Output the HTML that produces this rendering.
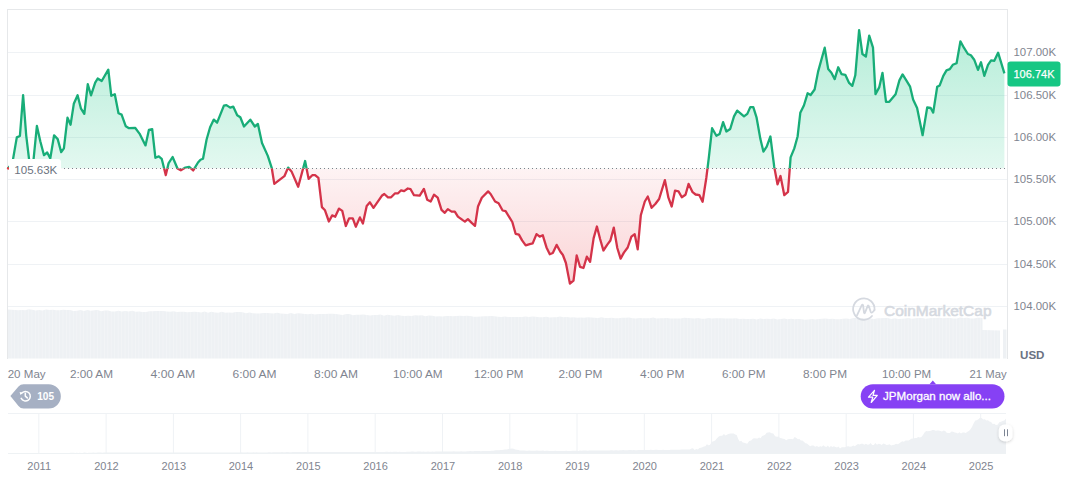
<!DOCTYPE html>
<html><head><meta charset="utf-8"><style>
html,body{margin:0;padding:0;background:#fff;width:1072px;height:477px;overflow:hidden;}
svg{display:block;font-family:"Liberation Sans",sans-serif;}
</style></head><body>
<svg width="1072" height="477" viewBox="0 0 1072 477"><defs><linearGradient id="gg" x1="0" y1="28" x2="0" y2="168.5" gradientUnits="userSpaceOnUse"><stop offset="0" stop-color="#16c784" stop-opacity="0.32"/><stop offset="1" stop-color="#16c784" stop-opacity="0.12"/></linearGradient><linearGradient id="rg" x1="0" y1="168.5" x2="0" y2="285" gradientUnits="userSpaceOnUse"><stop offset="0" stop-color="#ea3943" stop-opacity="0.06"/><stop offset="1" stop-color="#ea3943" stop-opacity="0.22"/></linearGradient><clipPath id="above"><rect x="0" y="0" width="1072" height="168.5"/></clipPath><clipPath id="below"><rect x="0" y="168.5" width="1072" height="308.5"/></clipPath><filter id="sh" x="-50%" y="-50%" width="200%" height="200%"><feDropShadow dx="0" dy="1" stdDeviation="1.5" flood-color="#000" flood-opacity="0.18"/></filter></defs><rect width="1072" height="477" fill="#fff"/><path d="M8.0,309.6 L11.4,309.8 L14.9,309.9 L18.3,310.2 L21.8,310.0 L25.2,310.2 L28.7,309.2 L32.1,309.8 L35.6,310.4 L39.1,310.1 L42.5,310.5 L46.0,309.6 L49.4,310.0 L52.9,309.8 L56.3,310.2 L59.8,310.3 L63.2,309.7 L66.7,310.0 L70.1,310.1 L73.6,310.9 L77.0,310.8 L80.5,310.1 L83.9,310.9 L87.4,310.1 L90.8,310.8 L94.3,310.2 L97.7,310.1 L101.2,311.2 L104.6,310.5 L108.1,310.5 L111.5,311.5 L115.0,311.4 L118.4,310.8 L121.9,311.6 L125.3,311.1 L128.8,311.4 L132.2,310.8 L135.7,311.8 L139.1,311.5 L142.6,311.9 L146.0,311.9 L149.4,311.2 L152.9,311.3 L156.3,311.1 L159.8,311.1 L163.2,311.1 L166.7,311.4 L170.1,311.8 L173.6,311.2 L177.0,312.0 L180.5,311.7 L183.9,311.7 L187.4,312.3 L190.8,312.0 L194.3,311.8 L197.7,312.1 L201.2,312.4 L204.6,311.6 L208.1,312.8 L211.5,311.7 L215.0,312.6 L218.4,312.8 L221.9,311.8 L225.3,312.8 L228.8,312.4 L232.2,312.7 L235.7,312.0 L239.1,312.1 L242.6,312.3 L246.0,313.3 L249.5,312.4 L252.9,313.2 L256.4,313.4 L259.8,313.5 L263.3,312.9 L266.7,312.9 L270.2,313.2 L273.6,313.6 L277.1,312.8 L280.5,313.6 L284.0,313.8 L287.4,313.9 L290.9,313.0 L294.3,314.1 L297.8,313.2 L301.2,313.5 L304.7,313.9 L308.1,314.3 L311.6,313.7 L315.0,314.5 L318.5,314.1 L321.9,313.9 L325.4,313.9 L328.8,313.8 L332.3,313.8 L335.7,313.9 L339.2,314.6 L342.6,315.1 L346.1,314.1 L349.5,314.1 L353.0,315.2 L356.4,314.8 L359.9,314.7 L363.3,314.5 L366.8,315.0 L370.2,315.4 L373.7,315.0 L377.1,315.0 L380.6,314.6 L384.0,315.7 L387.5,314.7 L390.9,315.3 L394.4,315.8 L397.8,315.0 L401.3,315.8 L404.7,316.1 L408.2,315.7 L411.6,316.0 L415.1,315.2 L418.5,315.6 L422.0,315.3 L425.4,316.2 L428.9,315.5 L432.3,315.8 L435.8,316.5 L439.2,316.3 L442.7,316.5 L446.1,315.9 L449.6,316.0 L453.0,316.3 L456.5,316.0 L459.9,315.8 L463.4,316.0 L466.8,315.7 L470.3,316.1 L473.7,316.8 L477.2,316.8 L480.6,316.5 L484.1,316.3 L487.5,316.2 L491.0,315.9 L494.4,316.2 L497.9,316.8 L501.3,317.0 L504.8,316.4 L508.2,316.9 L511.7,316.9 L515.1,316.9 L518.6,316.9 L522.0,317.0 L525.5,316.6 L528.9,317.0 L532.4,316.6 L535.8,316.8 L539.3,317.2 L542.7,317.2 L546.2,316.7 L549.6,317.5 L553.1,317.2 L556.5,317.2 L560.0,316.5 L563.4,317.2 L566.9,316.9 L570.3,317.4 L573.8,317.2 L577.2,317.7 L580.7,317.5 L584.1,317.7 L587.6,317.2 L591.0,317.6 L594.5,317.7 L597.9,317.9 L601.4,317.3 L604.9,318.0 L608.3,318.0 L611.8,317.8 L615.2,318.2 L618.7,318.2 L622.1,317.7 L625.6,317.8 L629.0,317.4 L632.5,318.2 L635.9,318.4 L639.4,317.9 L642.8,318.2 L646.3,318.2 L649.7,318.3 L653.2,317.6 L656.6,318.4 L660.1,318.2 L663.5,318.3 L667.0,318.1 L670.4,318.4 L673.9,318.6 L677.3,318.4 L680.8,318.6 L684.2,317.8 L687.7,318.0 L691.1,318.3 L694.6,318.6 L698.0,318.1 L701.5,318.7 L704.9,318.7 L708.4,318.0 L711.8,318.6 L715.3,318.3 L718.7,318.2 L722.2,318.3 L725.6,318.5 L729.1,318.4 L732.5,318.5 L736.0,318.3 L739.4,318.9 L742.9,318.8 L746.3,319.1 L749.8,319.1 L753.2,318.7 L756.7,319.5 L760.1,318.4 L763.6,318.9 L767.0,318.8 L770.5,319.0 L773.9,318.6 L777.4,319.5 L780.8,319.0 L784.3,318.6 L787.7,319.3 L791.2,318.7 L794.6,319.2 L798.1,319.0 L801.5,319.3 L805.0,319.7 L808.4,319.5 L811.9,318.9 L815.3,319.4 L818.8,319.1 L822.2,318.7 L825.7,318.4 L829.1,318.9 L832.6,318.8 L836.0,319.2 L839.5,319.2 L842.9,318.7 L846.4,318.4 L849.8,319.0 L853.3,317.9 L856.7,318.0 L860.2,318.5 L863.6,318.6 L867.1,318.0 L870.5,318.6 L874.0,318.9 L877.4,318.2 L880.9,318.3 L884.3,318.0 L887.8,318.1 L891.2,318.9 L894.7,318.2 L898.1,318.9 L901.6,318.8 L905.0,318.4 L908.5,318.0 L911.9,318.8 L915.4,318.2 L918.8,318.1 L922.3,318.0 L925.7,318.8 L929.2,318.2 L932.6,317.9 L936.1,318.1 L939.5,317.7 L943.0,318.3 L946.4,318.1 L949.9,317.9 L953.3,318.4 L956.8,318.5 L960.2,317.5 L963.7,318.1 L967.1,317.8 L970.6,318.6 L974.0,318.4 L977.5,317.7 L980.9,317.7 L982.5,318.0 L982.5,330.0 L1000.0,330.5 L1000.0,358.5 L8.0,358.5 Z" fill="#eef1f4"/><rect x="1003" y="329.5" width="3.5" height="29" fill="#eef1f4"/><path d="M11.20,305 V359 M14.65,305 V359 M18.10,305 V359 M21.55,305 V359 M25.00,305 V359 M28.45,305 V359 M31.90,305 V359 M35.35,305 V359 M38.80,305 V359 M42.25,305 V359 M45.70,305 V359 M49.15,305 V359 M52.60,305 V359 M56.05,305 V359 M59.50,305 V359 M62.95,305 V359 M66.40,305 V359 M69.85,305 V359 M73.30,305 V359 M76.75,305 V359 M80.20,305 V359 M83.65,305 V359 M87.10,305 V359 M90.55,305 V359 M94.00,305 V359 M97.45,305 V359 M100.90,305 V359 M104.35,305 V359 M107.80,305 V359 M111.25,305 V359 M114.70,305 V359 M118.15,305 V359 M121.60,305 V359 M125.05,305 V359 M128.50,305 V359 M131.95,305 V359 M135.40,305 V359 M138.85,305 V359 M142.30,305 V359 M145.75,305 V359 M149.20,305 V359 M152.65,305 V359 M156.10,305 V359 M159.55,305 V359 M163.00,305 V359 M166.45,305 V359 M169.90,305 V359 M173.35,305 V359 M176.80,305 V359 M180.25,305 V359 M183.70,305 V359 M187.15,305 V359 M190.60,305 V359 M194.05,305 V359 M197.50,305 V359 M200.95,305 V359 M204.40,305 V359 M207.85,305 V359 M211.30,305 V359 M214.75,305 V359 M218.20,305 V359 M221.65,305 V359 M225.10,305 V359 M228.55,305 V359 M232.00,305 V359 M235.45,305 V359 M238.90,305 V359 M242.35,305 V359 M245.80,305 V359 M249.25,305 V359 M252.70,305 V359 M256.15,305 V359 M259.60,305 V359 M263.05,305 V359 M266.50,305 V359 M269.95,305 V359 M273.40,305 V359 M276.85,305 V359 M280.30,305 V359 M283.75,305 V359 M287.20,305 V359 M290.65,305 V359 M294.10,305 V359 M297.55,305 V359 M301.00,305 V359 M304.45,305 V359 M307.90,305 V359 M311.35,305 V359 M314.80,305 V359 M318.25,305 V359 M321.70,305 V359 M325.15,305 V359 M328.60,305 V359 M332.05,305 V359 M335.50,305 V359 M338.95,305 V359 M342.40,305 V359 M345.85,305 V359 M349.30,305 V359 M352.75,305 V359 M356.20,305 V359 M359.65,305 V359 M363.10,305 V359 M366.55,305 V359 M370.00,305 V359 M373.45,305 V359 M376.90,305 V359 M380.35,305 V359 M383.80,305 V359 M387.25,305 V359 M390.70,305 V359 M394.15,305 V359 M397.60,305 V359 M401.05,305 V359 M404.50,305 V359 M407.95,305 V359 M411.40,305 V359 M414.85,305 V359 M418.30,305 V359 M421.75,305 V359 M425.20,305 V359 M428.65,305 V359 M432.10,305 V359 M435.55,305 V359 M439.00,305 V359 M442.45,305 V359 M445.90,305 V359 M449.35,305 V359 M452.80,305 V359 M456.25,305 V359 M459.70,305 V359 M463.15,305 V359 M466.60,305 V359 M470.05,305 V359 M473.50,305 V359 M476.95,305 V359 M480.40,305 V359 M483.85,305 V359 M487.30,305 V359 M490.75,305 V359 M494.20,305 V359 M497.65,305 V359 M501.10,305 V359 M504.55,305 V359 M508.00,305 V359 M511.45,305 V359 M514.90,305 V359 M518.35,305 V359 M521.80,305 V359 M525.25,305 V359 M528.70,305 V359 M532.15,305 V359 M535.60,305 V359 M539.05,305 V359 M542.50,305 V359 M545.95,305 V359 M549.40,305 V359 M552.85,305 V359 M556.30,305 V359 M559.75,305 V359 M563.20,305 V359 M566.65,305 V359 M570.10,305 V359 M573.55,305 V359 M577.00,305 V359 M580.45,305 V359 M583.90,305 V359 M587.35,305 V359 M590.80,305 V359 M594.25,305 V359 M597.70,305 V359 M601.15,305 V359 M604.60,305 V359 M608.05,305 V359 M611.50,305 V359 M614.95,305 V359 M618.40,305 V359 M621.85,305 V359 M625.30,305 V359 M628.75,305 V359 M632.20,305 V359 M635.65,305 V359 M639.10,305 V359 M642.55,305 V359 M646.00,305 V359 M649.45,305 V359 M652.90,305 V359 M656.35,305 V359 M659.80,305 V359 M663.25,305 V359 M666.70,305 V359 M670.15,305 V359 M673.60,305 V359 M677.05,305 V359 M680.50,305 V359 M683.95,305 V359 M687.40,305 V359 M690.85,305 V359 M694.30,305 V359 M697.75,305 V359 M701.20,305 V359 M704.65,305 V359 M708.10,305 V359 M711.55,305 V359 M715.00,305 V359 M718.45,305 V359 M721.90,305 V359 M725.35,305 V359 M728.80,305 V359 M732.25,305 V359 M735.70,305 V359 M739.15,305 V359 M742.60,305 V359 M746.05,305 V359 M749.50,305 V359 M752.95,305 V359 M756.40,305 V359 M759.85,305 V359 M763.30,305 V359 M766.75,305 V359 M770.20,305 V359 M773.65,305 V359 M777.10,305 V359 M780.55,305 V359 M784.00,305 V359 M787.45,305 V359 M790.90,305 V359 M794.35,305 V359 M797.80,305 V359 M801.25,305 V359 M804.70,305 V359 M808.15,305 V359 M811.60,305 V359 M815.05,305 V359 M818.50,305 V359 M821.95,305 V359 M825.40,305 V359 M828.85,305 V359 M832.30,305 V359 M835.75,305 V359 M839.20,305 V359 M842.65,305 V359 M846.10,305 V359 M849.55,305 V359 M853.00,305 V359 M856.45,305 V359 M859.90,305 V359 M863.35,305 V359 M866.80,305 V359 M870.25,305 V359 M873.70,305 V359 M877.15,305 V359 M880.60,305 V359 M884.05,305 V359 M887.50,305 V359 M890.95,305 V359 M894.40,305 V359 M897.85,305 V359 M901.30,305 V359 M904.75,305 V359 M908.20,305 V359 M911.65,305 V359 M915.10,305 V359 M918.55,305 V359 M922.00,305 V359 M925.45,305 V359 M928.90,305 V359 M932.35,305 V359 M935.80,305 V359 M939.25,305 V359 M942.70,305 V359 M946.15,305 V359 M949.60,305 V359 M953.05,305 V359 M956.50,305 V359 M959.95,305 V359 M963.40,305 V359 M966.85,305 V359 M970.30,305 V359 M973.75,305 V359 M977.20,305 V359 M980.65,305 V359 M984.10,305 V359 M987.55,305 V359 M991.00,305 V359 M994.45,305 V359 M997.90,305 V359" stroke="#fff" stroke-opacity="0.45" stroke-width="0.6"/><g stroke="#eff2f5" stroke-width="1"><line x1="7" y1="52.5" x2="1007.5" y2="52.5"/><line x1="7" y1="95.5" x2="1007.5" y2="95.5"/><line x1="7" y1="137.5" x2="1007.5" y2="137.5"/><line x1="7" y1="179.5" x2="1007.5" y2="179.5"/><line x1="7" y1="221.5" x2="1007.5" y2="221.5"/><line x1="7" y1="264.5" x2="1007.5" y2="264.5"/><line x1="7" y1="306.5" x2="1007.5" y2="306.5"/></g><g stroke="#e6e8ea" stroke-width="1"><line x1="7" y1="9.5" x2="1008" y2="9.5"/><line x1="7.5" y1="9" x2="7.5" y2="359"/><line x1="1007.5" y1="9" x2="1007.5" y2="359"/></g><g fill="none" stroke="#d5d9e0" stroke-width="1.8" stroke-linecap="round" stroke-linejoin="round"><path d="M872.0,316.0 A10.7,10.7 0 1 1 874.5,310.0"/><path d="M857,315.4 L861.8,305.2 Q862.5,303.9 863.1,305.3 L864.0,312.6 Q864.4,314 865.0,312.6 L867.6,306.2 Q868.3,304.8 868.9,306.3 L870.6,311.6 Q871.6,314.2 874.5,310.0"/></g><text x="884" y="315.7" font-family="Liberation Sans" font-size="14" fill="#d5d9e0" stroke="#d5d9e0" stroke-width="0.55" textLength="107.5" lengthAdjust="spacingAndGlyphs">CoinMarketCap</text><path d="M7.5,169.0 L10.0,166.0 L13.0,159.4 L16.8,137.4 L19.9,136.0 L23.1,95.1 L26.2,135.3 L29.4,162.0 L33.5,160.0 L36.9,125.9 L40.3,141.2 L44.0,155.2 L47.2,152.5 L50.3,158.4 L54.1,135.3 L57.7,139.1 L61.2,152.1 L63.9,148.3 L67.5,117.7 L70.6,124.7 L73.8,103.8 L77.6,95.2 L81.0,108.7 L84.3,113.8 L87.8,84.2 L91.0,95.3 L95.2,82.7 L97.7,78.5 L101.7,81.0 L108.3,69.7 L111.3,95.8 L114.8,94.2 L118.5,113.3 L121.6,114.6 L125.8,126.3 L129.0,128.2 L135.1,127.8 L139.5,133.6 L145.5,145.4 L148.9,129.9 L152.2,129.1 L155.4,157.8 L158.8,156.4 L161.7,158.8 L165.8,175.1 L168.5,163.4 L172.6,157.0 L177.5,168.5 L180.8,170.3 L185.4,167.6 L189.2,166.8 L193.2,170.5 L198.0,162.5 L200.5,159.7 L203.0,158.7 L206.6,139.5 L210.1,127.2 L213.8,119.6 L217.1,122.7 L223.9,105.6 L226.4,105.1 L230.2,107.6 L233.2,106.6 L237.2,115.2 L240.3,117.2 L244.0,126.5 L250.3,119.7 L254.8,126.5 L257.9,124.0 L262.0,143.0 L267.8,155.9 L271.8,168.2 L274.3,183.9 L284.4,176.2 L288.1,167.6 L291.5,171.4 L298.2,186.8 L305.1,161.0 L308.6,178.9 L312.3,175.2 L315.1,175.2 L318.4,177.9 L321.9,207.1 L325.0,210.3 L328.9,221.5 L332.2,215.4 L335.2,216.7 L339.0,208.6 L342.3,210.9 L345.8,226.0 L349.1,218.4 L352.8,218.4 L355.8,226.7 L359.9,217.4 L362.9,223.5 L366.7,205.9 L369.9,202.3 L373.5,207.9 L381.8,195.8 L384.3,194.0 L388.0,197.3 L391.1,197.3 L395.1,193.3 L398.1,193.3 L401.1,190.3 L404.1,191.1 L407.8,188.5 L410.6,189.2 L414.0,195.2 L419.7,195.7 L423.9,188.9 L427.2,199.7 L430.7,201.5 L434.0,194.7 L437.7,197.7 L441.5,209.8 L444.8,212.8 L447.8,209.1 L451.6,211.6 L454.8,211.6 L457.9,216.6 L462.4,219.9 L464.9,221.6 L467.9,219.1 L471.7,222.9 L475.0,225.9 L478.0,206.5 L481.8,197.7 L488.1,191.4 L490.6,194.0 L495.1,201.5 L498.6,203.3 L502.6,210.5 L505.6,211.2 L509.6,217.7 L512.3,222.0 L515.6,233.8 L518.9,234.6 L522.1,240.4 L525.7,245.4 L529.7,244.2 L532.7,243.4 L536.5,234.1 L539.7,236.6 L542.8,235.3 L546.5,247.4 L549.8,254.2 L552.8,253.0 L556.6,244.9 L560.4,251.7 L562.9,255.0 L565.9,263.0 L569.9,283.6 L573.5,280.6 L576.7,255.5 L580.0,266.8 L583.5,268.0 L586.8,256.7 L590.1,261.8 L593.6,238.4 L596.9,226.5 L600.1,239.0 L603.4,250.5 L607.3,244.6 L610.4,240.5 L613.8,227.6 L617.3,248.0 L620.6,258.6 L623.9,252.6 L627.7,247.5 L631.4,236.7 L634.7,234.2 L637.7,249.3 L640.8,215.3 L644.8,201.5 L647.8,196.5 L651.6,207.8 L655.3,204.0 L659.1,199.0 L664.9,180.1 L668.4,197.7 L671.7,206.5 L675.0,190.7 L678.5,191.4 L681.8,197.2 L685.5,194.7 L688.6,183.9 L692.6,192.2 L695.6,194.5 L699.4,195.2 L702.6,201.8 L706.3,178.0 L708.8,157.9 L712.1,128.2 L716.4,135.8 L719.6,134.0 L723.1,122.2 L726.4,131.5 L730.2,129.0 L734.0,116.4 L737.2,110.6 L744.0,116.4 L747.3,113.9 L750.3,107.1 L753.3,107.1 L756.6,117.7 L760.4,139.1 L763.4,151.6 L766.7,146.6 L770.4,136.5 L774.2,166.7 L777.5,184.3 L780.5,176.0 L784.3,195.2 L788.0,191.9 L790.6,157.4 L794.3,148.4 L797.6,136.5 L800.3,112.8 L803.9,105.5 L807.6,93.3 L810.6,95.0 L814.6,89.5 L818.1,71.6 L824.7,47.7 L828.2,69.1 L831.4,72.8 L834.7,79.1 L838.2,67.3 L841.5,74.1 L845.3,74.8 L849.1,82.9 L852.3,85.9 L855.3,75.3 L859.1,30.1 L862.4,54.0 L865.9,56.5 L869.2,35.6 L873.0,47.7 L875.5,94.2 L879.2,87.4 L882.5,72.8 L886.0,101.8 L889.3,101.8 L895.6,94.2 L899.4,80.4 L902.6,74.4 L906.3,80.4 L910.1,86.7 L913.1,99.5 L917.1,108.0 L922.6,135.2 L927.2,107.5 L930.7,108.0 L933.2,112.6 L937.2,86.7 L939.7,85.4 L943.3,75.8 L946.5,70.3 L949.8,69.1 L952.8,64.8 L956.6,63.3 L960.4,41.4 L964.2,48.2 L967.9,54.0 L970.9,55.2 L974.2,59.7 L978.0,69.8 L981.0,62.3 L984.3,75.8 L988.0,64.8 L991.1,60.3 L994.3,60.8 L998.1,52.7 L1004.4,73.3 L1004.4,168.5 L7.5,168.5 Z" fill="url(#gg)" clip-path="url(#above)"/><path d="M7.5,169.0 L10.0,166.0 L13.0,159.4 L16.8,137.4 L19.9,136.0 L23.1,95.1 L26.2,135.3 L29.4,162.0 L33.5,160.0 L36.9,125.9 L40.3,141.2 L44.0,155.2 L47.2,152.5 L50.3,158.4 L54.1,135.3 L57.7,139.1 L61.2,152.1 L63.9,148.3 L67.5,117.7 L70.6,124.7 L73.8,103.8 L77.6,95.2 L81.0,108.7 L84.3,113.8 L87.8,84.2 L91.0,95.3 L95.2,82.7 L97.7,78.5 L101.7,81.0 L108.3,69.7 L111.3,95.8 L114.8,94.2 L118.5,113.3 L121.6,114.6 L125.8,126.3 L129.0,128.2 L135.1,127.8 L139.5,133.6 L145.5,145.4 L148.9,129.9 L152.2,129.1 L155.4,157.8 L158.8,156.4 L161.7,158.8 L165.8,175.1 L168.5,163.4 L172.6,157.0 L177.5,168.5 L180.8,170.3 L185.4,167.6 L189.2,166.8 L193.2,170.5 L198.0,162.5 L200.5,159.7 L203.0,158.7 L206.6,139.5 L210.1,127.2 L213.8,119.6 L217.1,122.7 L223.9,105.6 L226.4,105.1 L230.2,107.6 L233.2,106.6 L237.2,115.2 L240.3,117.2 L244.0,126.5 L250.3,119.7 L254.8,126.5 L257.9,124.0 L262.0,143.0 L267.8,155.9 L271.8,168.2 L274.3,183.9 L284.4,176.2 L288.1,167.6 L291.5,171.4 L298.2,186.8 L305.1,161.0 L308.6,178.9 L312.3,175.2 L315.1,175.2 L318.4,177.9 L321.9,207.1 L325.0,210.3 L328.9,221.5 L332.2,215.4 L335.2,216.7 L339.0,208.6 L342.3,210.9 L345.8,226.0 L349.1,218.4 L352.8,218.4 L355.8,226.7 L359.9,217.4 L362.9,223.5 L366.7,205.9 L369.9,202.3 L373.5,207.9 L381.8,195.8 L384.3,194.0 L388.0,197.3 L391.1,197.3 L395.1,193.3 L398.1,193.3 L401.1,190.3 L404.1,191.1 L407.8,188.5 L410.6,189.2 L414.0,195.2 L419.7,195.7 L423.9,188.9 L427.2,199.7 L430.7,201.5 L434.0,194.7 L437.7,197.7 L441.5,209.8 L444.8,212.8 L447.8,209.1 L451.6,211.6 L454.8,211.6 L457.9,216.6 L462.4,219.9 L464.9,221.6 L467.9,219.1 L471.7,222.9 L475.0,225.9 L478.0,206.5 L481.8,197.7 L488.1,191.4 L490.6,194.0 L495.1,201.5 L498.6,203.3 L502.6,210.5 L505.6,211.2 L509.6,217.7 L512.3,222.0 L515.6,233.8 L518.9,234.6 L522.1,240.4 L525.7,245.4 L529.7,244.2 L532.7,243.4 L536.5,234.1 L539.7,236.6 L542.8,235.3 L546.5,247.4 L549.8,254.2 L552.8,253.0 L556.6,244.9 L560.4,251.7 L562.9,255.0 L565.9,263.0 L569.9,283.6 L573.5,280.6 L576.7,255.5 L580.0,266.8 L583.5,268.0 L586.8,256.7 L590.1,261.8 L593.6,238.4 L596.9,226.5 L600.1,239.0 L603.4,250.5 L607.3,244.6 L610.4,240.5 L613.8,227.6 L617.3,248.0 L620.6,258.6 L623.9,252.6 L627.7,247.5 L631.4,236.7 L634.7,234.2 L637.7,249.3 L640.8,215.3 L644.8,201.5 L647.8,196.5 L651.6,207.8 L655.3,204.0 L659.1,199.0 L664.9,180.1 L668.4,197.7 L671.7,206.5 L675.0,190.7 L678.5,191.4 L681.8,197.2 L685.5,194.7 L688.6,183.9 L692.6,192.2 L695.6,194.5 L699.4,195.2 L702.6,201.8 L706.3,178.0 L708.8,157.9 L712.1,128.2 L716.4,135.8 L719.6,134.0 L723.1,122.2 L726.4,131.5 L730.2,129.0 L734.0,116.4 L737.2,110.6 L744.0,116.4 L747.3,113.9 L750.3,107.1 L753.3,107.1 L756.6,117.7 L760.4,139.1 L763.4,151.6 L766.7,146.6 L770.4,136.5 L774.2,166.7 L777.5,184.3 L780.5,176.0 L784.3,195.2 L788.0,191.9 L790.6,157.4 L794.3,148.4 L797.6,136.5 L800.3,112.8 L803.9,105.5 L807.6,93.3 L810.6,95.0 L814.6,89.5 L818.1,71.6 L824.7,47.7 L828.2,69.1 L831.4,72.8 L834.7,79.1 L838.2,67.3 L841.5,74.1 L845.3,74.8 L849.1,82.9 L852.3,85.9 L855.3,75.3 L859.1,30.1 L862.4,54.0 L865.9,56.5 L869.2,35.6 L873.0,47.7 L875.5,94.2 L879.2,87.4 L882.5,72.8 L886.0,101.8 L889.3,101.8 L895.6,94.2 L899.4,80.4 L902.6,74.4 L906.3,80.4 L910.1,86.7 L913.1,99.5 L917.1,108.0 L922.6,135.2 L927.2,107.5 L930.7,108.0 L933.2,112.6 L937.2,86.7 L939.7,85.4 L943.3,75.8 L946.5,70.3 L949.8,69.1 L952.8,64.8 L956.6,63.3 L960.4,41.4 L964.2,48.2 L967.9,54.0 L970.9,55.2 L974.2,59.7 L978.0,69.8 L981.0,62.3 L984.3,75.8 L988.0,64.8 L991.1,60.3 L994.3,60.8 L998.1,52.7 L1004.4,73.3 L1004.4,168.5 L7.5,168.5 Z" fill="url(#rg)" clip-path="url(#below)"/><line x1="8" y1="168.5" x2="1007" y2="168.5" stroke="#7d828c" stroke-width="1" stroke-dasharray="1 3"/><path d="M7.5,169.0 L10.0,166.0 L13.0,159.4 L16.8,137.4 L19.9,136.0 L23.1,95.1 L26.2,135.3 L29.4,162.0 L33.5,160.0 L36.9,125.9 L40.3,141.2 L44.0,155.2 L47.2,152.5 L50.3,158.4 L54.1,135.3 L57.7,139.1 L61.2,152.1 L63.9,148.3 L67.5,117.7 L70.6,124.7 L73.8,103.8 L77.6,95.2 L81.0,108.7 L84.3,113.8 L87.8,84.2 L91.0,95.3 L95.2,82.7 L97.7,78.5 L101.7,81.0 L108.3,69.7 L111.3,95.8 L114.8,94.2 L118.5,113.3 L121.6,114.6 L125.8,126.3 L129.0,128.2 L135.1,127.8 L139.5,133.6 L145.5,145.4 L148.9,129.9 L152.2,129.1 L155.4,157.8 L158.8,156.4 L161.7,158.8 L165.8,175.1 L168.5,163.4 L172.6,157.0 L177.5,168.5 L180.8,170.3 L185.4,167.6 L189.2,166.8 L193.2,170.5 L198.0,162.5 L200.5,159.7 L203.0,158.7 L206.6,139.5 L210.1,127.2 L213.8,119.6 L217.1,122.7 L223.9,105.6 L226.4,105.1 L230.2,107.6 L233.2,106.6 L237.2,115.2 L240.3,117.2 L244.0,126.5 L250.3,119.7 L254.8,126.5 L257.9,124.0 L262.0,143.0 L267.8,155.9 L271.8,168.2 L274.3,183.9 L284.4,176.2 L288.1,167.6 L291.5,171.4 L298.2,186.8 L305.1,161.0 L308.6,178.9 L312.3,175.2 L315.1,175.2 L318.4,177.9 L321.9,207.1 L325.0,210.3 L328.9,221.5 L332.2,215.4 L335.2,216.7 L339.0,208.6 L342.3,210.9 L345.8,226.0 L349.1,218.4 L352.8,218.4 L355.8,226.7 L359.9,217.4 L362.9,223.5 L366.7,205.9 L369.9,202.3 L373.5,207.9 L381.8,195.8 L384.3,194.0 L388.0,197.3 L391.1,197.3 L395.1,193.3 L398.1,193.3 L401.1,190.3 L404.1,191.1 L407.8,188.5 L410.6,189.2 L414.0,195.2 L419.7,195.7 L423.9,188.9 L427.2,199.7 L430.7,201.5 L434.0,194.7 L437.7,197.7 L441.5,209.8 L444.8,212.8 L447.8,209.1 L451.6,211.6 L454.8,211.6 L457.9,216.6 L462.4,219.9 L464.9,221.6 L467.9,219.1 L471.7,222.9 L475.0,225.9 L478.0,206.5 L481.8,197.7 L488.1,191.4 L490.6,194.0 L495.1,201.5 L498.6,203.3 L502.6,210.5 L505.6,211.2 L509.6,217.7 L512.3,222.0 L515.6,233.8 L518.9,234.6 L522.1,240.4 L525.7,245.4 L529.7,244.2 L532.7,243.4 L536.5,234.1 L539.7,236.6 L542.8,235.3 L546.5,247.4 L549.8,254.2 L552.8,253.0 L556.6,244.9 L560.4,251.7 L562.9,255.0 L565.9,263.0 L569.9,283.6 L573.5,280.6 L576.7,255.5 L580.0,266.8 L583.5,268.0 L586.8,256.7 L590.1,261.8 L593.6,238.4 L596.9,226.5 L600.1,239.0 L603.4,250.5 L607.3,244.6 L610.4,240.5 L613.8,227.6 L617.3,248.0 L620.6,258.6 L623.9,252.6 L627.7,247.5 L631.4,236.7 L634.7,234.2 L637.7,249.3 L640.8,215.3 L644.8,201.5 L647.8,196.5 L651.6,207.8 L655.3,204.0 L659.1,199.0 L664.9,180.1 L668.4,197.7 L671.7,206.5 L675.0,190.7 L678.5,191.4 L681.8,197.2 L685.5,194.7 L688.6,183.9 L692.6,192.2 L695.6,194.5 L699.4,195.2 L702.6,201.8 L706.3,178.0 L708.8,157.9 L712.1,128.2 L716.4,135.8 L719.6,134.0 L723.1,122.2 L726.4,131.5 L730.2,129.0 L734.0,116.4 L737.2,110.6 L744.0,116.4 L747.3,113.9 L750.3,107.1 L753.3,107.1 L756.6,117.7 L760.4,139.1 L763.4,151.6 L766.7,146.6 L770.4,136.5 L774.2,166.7 L777.5,184.3 L780.5,176.0 L784.3,195.2 L788.0,191.9 L790.6,157.4 L794.3,148.4 L797.6,136.5 L800.3,112.8 L803.9,105.5 L807.6,93.3 L810.6,95.0 L814.6,89.5 L818.1,71.6 L824.7,47.7 L828.2,69.1 L831.4,72.8 L834.7,79.1 L838.2,67.3 L841.5,74.1 L845.3,74.8 L849.1,82.9 L852.3,85.9 L855.3,75.3 L859.1,30.1 L862.4,54.0 L865.9,56.5 L869.2,35.6 L873.0,47.7 L875.5,94.2 L879.2,87.4 L882.5,72.8 L886.0,101.8 L889.3,101.8 L895.6,94.2 L899.4,80.4 L902.6,74.4 L906.3,80.4 L910.1,86.7 L913.1,99.5 L917.1,108.0 L922.6,135.2 L927.2,107.5 L930.7,108.0 L933.2,112.6 L937.2,86.7 L939.7,85.4 L943.3,75.8 L946.5,70.3 L949.8,69.1 L952.8,64.8 L956.6,63.3 L960.4,41.4 L964.2,48.2 L967.9,54.0 L970.9,55.2 L974.2,59.7 L978.0,69.8 L981.0,62.3 L984.3,75.8 L988.0,64.8 L991.1,60.3 L994.3,60.8 L998.1,52.7 L1004.4,73.3" fill="none" stroke="#18ad78" stroke-width="2.3" stroke-linejoin="round" clip-path="url(#above)"/><path d="M7.5,169.0 L10.0,166.0 L13.0,159.4 L16.8,137.4 L19.9,136.0 L23.1,95.1 L26.2,135.3 L29.4,162.0 L33.5,160.0 L36.9,125.9 L40.3,141.2 L44.0,155.2 L47.2,152.5 L50.3,158.4 L54.1,135.3 L57.7,139.1 L61.2,152.1 L63.9,148.3 L67.5,117.7 L70.6,124.7 L73.8,103.8 L77.6,95.2 L81.0,108.7 L84.3,113.8 L87.8,84.2 L91.0,95.3 L95.2,82.7 L97.7,78.5 L101.7,81.0 L108.3,69.7 L111.3,95.8 L114.8,94.2 L118.5,113.3 L121.6,114.6 L125.8,126.3 L129.0,128.2 L135.1,127.8 L139.5,133.6 L145.5,145.4 L148.9,129.9 L152.2,129.1 L155.4,157.8 L158.8,156.4 L161.7,158.8 L165.8,175.1 L168.5,163.4 L172.6,157.0 L177.5,168.5 L180.8,170.3 L185.4,167.6 L189.2,166.8 L193.2,170.5 L198.0,162.5 L200.5,159.7 L203.0,158.7 L206.6,139.5 L210.1,127.2 L213.8,119.6 L217.1,122.7 L223.9,105.6 L226.4,105.1 L230.2,107.6 L233.2,106.6 L237.2,115.2 L240.3,117.2 L244.0,126.5 L250.3,119.7 L254.8,126.5 L257.9,124.0 L262.0,143.0 L267.8,155.9 L271.8,168.2 L274.3,183.9 L284.4,176.2 L288.1,167.6 L291.5,171.4 L298.2,186.8 L305.1,161.0 L308.6,178.9 L312.3,175.2 L315.1,175.2 L318.4,177.9 L321.9,207.1 L325.0,210.3 L328.9,221.5 L332.2,215.4 L335.2,216.7 L339.0,208.6 L342.3,210.9 L345.8,226.0 L349.1,218.4 L352.8,218.4 L355.8,226.7 L359.9,217.4 L362.9,223.5 L366.7,205.9 L369.9,202.3 L373.5,207.9 L381.8,195.8 L384.3,194.0 L388.0,197.3 L391.1,197.3 L395.1,193.3 L398.1,193.3 L401.1,190.3 L404.1,191.1 L407.8,188.5 L410.6,189.2 L414.0,195.2 L419.7,195.7 L423.9,188.9 L427.2,199.7 L430.7,201.5 L434.0,194.7 L437.7,197.7 L441.5,209.8 L444.8,212.8 L447.8,209.1 L451.6,211.6 L454.8,211.6 L457.9,216.6 L462.4,219.9 L464.9,221.6 L467.9,219.1 L471.7,222.9 L475.0,225.9 L478.0,206.5 L481.8,197.7 L488.1,191.4 L490.6,194.0 L495.1,201.5 L498.6,203.3 L502.6,210.5 L505.6,211.2 L509.6,217.7 L512.3,222.0 L515.6,233.8 L518.9,234.6 L522.1,240.4 L525.7,245.4 L529.7,244.2 L532.7,243.4 L536.5,234.1 L539.7,236.6 L542.8,235.3 L546.5,247.4 L549.8,254.2 L552.8,253.0 L556.6,244.9 L560.4,251.7 L562.9,255.0 L565.9,263.0 L569.9,283.6 L573.5,280.6 L576.7,255.5 L580.0,266.8 L583.5,268.0 L586.8,256.7 L590.1,261.8 L593.6,238.4 L596.9,226.5 L600.1,239.0 L603.4,250.5 L607.3,244.6 L610.4,240.5 L613.8,227.6 L617.3,248.0 L620.6,258.6 L623.9,252.6 L627.7,247.5 L631.4,236.7 L634.7,234.2 L637.7,249.3 L640.8,215.3 L644.8,201.5 L647.8,196.5 L651.6,207.8 L655.3,204.0 L659.1,199.0 L664.9,180.1 L668.4,197.7 L671.7,206.5 L675.0,190.7 L678.5,191.4 L681.8,197.2 L685.5,194.7 L688.6,183.9 L692.6,192.2 L695.6,194.5 L699.4,195.2 L702.6,201.8 L706.3,178.0 L708.8,157.9 L712.1,128.2 L716.4,135.8 L719.6,134.0 L723.1,122.2 L726.4,131.5 L730.2,129.0 L734.0,116.4 L737.2,110.6 L744.0,116.4 L747.3,113.9 L750.3,107.1 L753.3,107.1 L756.6,117.7 L760.4,139.1 L763.4,151.6 L766.7,146.6 L770.4,136.5 L774.2,166.7 L777.5,184.3 L780.5,176.0 L784.3,195.2 L788.0,191.9 L790.6,157.4 L794.3,148.4 L797.6,136.5 L800.3,112.8 L803.9,105.5 L807.6,93.3 L810.6,95.0 L814.6,89.5 L818.1,71.6 L824.7,47.7 L828.2,69.1 L831.4,72.8 L834.7,79.1 L838.2,67.3 L841.5,74.1 L845.3,74.8 L849.1,82.9 L852.3,85.9 L855.3,75.3 L859.1,30.1 L862.4,54.0 L865.9,56.5 L869.2,35.6 L873.0,47.7 L875.5,94.2 L879.2,87.4 L882.5,72.8 L886.0,101.8 L889.3,101.8 L895.6,94.2 L899.4,80.4 L902.6,74.4 L906.3,80.4 L910.1,86.7 L913.1,99.5 L917.1,108.0 L922.6,135.2 L927.2,107.5 L930.7,108.0 L933.2,112.6 L937.2,86.7 L939.7,85.4 L943.3,75.8 L946.5,70.3 L949.8,69.1 L952.8,64.8 L956.6,63.3 L960.4,41.4 L964.2,48.2 L967.9,54.0 L970.9,55.2 L974.2,59.7 L978.0,69.8 L981.0,62.3 L984.3,75.8 L988.0,64.8 L991.1,60.3 L994.3,60.8 L998.1,52.7 L1004.4,73.3" fill="none" stroke="#d43349" stroke-width="2.3" stroke-linejoin="round" clip-path="url(#below)"/><rect x="9" y="159" width="52" height="20" rx="3" fill="#fff"/><rect x="7" y="167.3" width="2" height="2" fill="#ea3943"/><text x="14.3" y="173.8" font-family="Liberation Sans" font-size="11" fill="#6b7280" textLength="43" lengthAdjust="spacingAndGlyphs">105.63K</text><text x="1013.5" y="56.4" font-family="Liberation Sans" font-size="11" fill="#7f8590" textLength="42.6" lengthAdjust="spacingAndGlyphs">107.00K</text><text x="1013.5" y="99.4" font-family="Liberation Sans" font-size="11" fill="#7f8590" textLength="42.6" lengthAdjust="spacingAndGlyphs">106.50K</text><text x="1013.5" y="141.4" font-family="Liberation Sans" font-size="11" fill="#7f8590" textLength="42.6" lengthAdjust="spacingAndGlyphs">106.00K</text><text x="1013.5" y="183.4" font-family="Liberation Sans" font-size="11" fill="#7f8590" textLength="42.6" lengthAdjust="spacingAndGlyphs">105.50K</text><text x="1013.5" y="225.4" font-family="Liberation Sans" font-size="11" fill="#7f8590" textLength="42.6" lengthAdjust="spacingAndGlyphs">105.00K</text><text x="1013.5" y="268.4" font-family="Liberation Sans" font-size="11" fill="#7f8590" textLength="42.6" lengthAdjust="spacingAndGlyphs">104.50K</text><text x="1013.5" y="310.4" font-family="Liberation Sans" font-size="11" fill="#7f8590" textLength="42.6" lengthAdjust="spacingAndGlyphs">104.00K</text><rect x="1007.5" y="61.5" width="53" height="25" rx="3" fill="#16c784"/><text x="1013.5" y="78" font-family="Liberation Sans" font-size="11.5" fill="#fff" stroke="#fff" stroke-width="0.25" textLength="41" lengthAdjust="spacingAndGlyphs">106.74K</text><text x="1020" y="358.7" font-family="Liberation Sans" font-size="11" font-weight="bold" fill="#6a7282" textLength="24.5" lengthAdjust="spacingAndGlyphs">USD</text><text x="7.7" y="378" font-family="Liberation Sans" font-size="11" fill="#7f8590" textLength="37.9" lengthAdjust="spacingAndGlyphs">20 May</text><text x="69.9" y="378" font-family="Liberation Sans" font-size="11" fill="#7f8590" textLength="43.1" lengthAdjust="spacingAndGlyphs">2:00 AM</text><text x="150.5" y="378" font-family="Liberation Sans" font-size="11" fill="#7f8590" textLength="44.7" lengthAdjust="spacingAndGlyphs">4:00 AM</text><text x="232.6" y="378" font-family="Liberation Sans" font-size="11" fill="#7f8590" textLength="43.9" lengthAdjust="spacingAndGlyphs">6:00 AM</text><text x="314" y="378" font-family="Liberation Sans" font-size="11" fill="#7f8590" textLength="43.9" lengthAdjust="spacingAndGlyphs">8:00 AM</text><text x="393" y="378" font-family="Liberation Sans" font-size="11" fill="#7f8590" textLength="49.6" lengthAdjust="spacingAndGlyphs">10:00 AM</text><text x="474" y="378" font-family="Liberation Sans" font-size="11" fill="#7f8590" textLength="49.5" lengthAdjust="spacingAndGlyphs">12:00 PM</text><text x="558.4" y="378" font-family="Liberation Sans" font-size="11" fill="#7f8590" textLength="44.0" lengthAdjust="spacingAndGlyphs">2:00 PM</text><text x="640" y="378" font-family="Liberation Sans" font-size="11" fill="#7f8590" textLength="44.4" lengthAdjust="spacingAndGlyphs">4:00 PM</text><text x="722" y="378" font-family="Liberation Sans" font-size="11" fill="#7f8590" textLength="43.5" lengthAdjust="spacingAndGlyphs">6:00 PM</text><text x="803" y="378" font-family="Liberation Sans" font-size="11" fill="#7f8590" textLength="44.0" lengthAdjust="spacingAndGlyphs">8:00 PM</text><text x="882" y="378" font-family="Liberation Sans" font-size="11" fill="#7f8590" textLength="49.2" lengthAdjust="spacingAndGlyphs">10:00 PM</text><text x="969.6" y="378" font-family="Liberation Sans" font-size="11" fill="#7f8590" textLength="37.0" lengthAdjust="spacingAndGlyphs">21 May</text><path d="M10.4,396 L18.5,386.5 Q20.5,384.2 23.5,384.2 L48.7,384.2 A12.15,12.15 0 0 1 48.7,408.5 L23.5,408.5 Q20.5,408.5 18.5,406 Z" fill="#a6b0c3"/><g fill="none" stroke="#fff" stroke-width="1.5" stroke-linecap="round" stroke-linejoin="round"><path d="M21.6,393.4 A4.8,4.8 0 1 1 21.2,398.4"/><path d="M25.3,393.3 L25.3,396.1 L27.3,397.9"/></g><path d="M19.6,392.0 L22.6,392.6 L20.4,395.0 Z" fill="#fff"/><text x="37.2" y="399.8" font-family="Liberation Sans" font-size="11" font-weight="bold" fill="#fff" textLength="16.8" lengthAdjust="spacingAndGlyphs">105</text><path d="M929.5,384.3 L932.8,380.4 L936.1,384.3 Z" fill="#8641f4"/><rect x="860.7" y="384.2" width="143.8" height="24.3" rx="12.15" fill="#8641f4"/><path d="M874.5,390.3 L868.5,397.2 L872.8,397.2 L871.2,402.5 L877.3,395.4 L873,395.4 Z" fill="none" stroke="#fff" stroke-width="1.2" stroke-linejoin="round"/><text x="883.1" y="400" font-family="Liberation Sans" font-size="11.5" fill="#fff" stroke="#fff" stroke-width="0.3" textLength="107.9" lengthAdjust="spacingAndGlyphs">JPMorgan now allo...</text><line x1="8" y1="413.5" x2="1006" y2="413.5" stroke="#eff2f5" stroke-width="1"/><line x1="8" y1="453.5" x2="1006" y2="453.5" stroke="#eff2f5" stroke-width="1"/><g stroke="#eff2f5" stroke-width="1"><line x1="38.8" y1="413.5" x2="38.8" y2="453.5"/><line x1="106.1" y1="413.5" x2="106.1" y2="453.5"/><line x1="173.4" y1="413.5" x2="173.4" y2="453.5"/><line x1="240.6" y1="413.5" x2="240.6" y2="453.5"/><line x1="307.9" y1="413.5" x2="307.9" y2="453.5"/><line x1="375.2" y1="413.5" x2="375.2" y2="453.5"/><line x1="442.5" y1="413.5" x2="442.5" y2="453.5"/><line x1="509.8" y1="413.5" x2="509.8" y2="453.5"/><line x1="577.0" y1="413.5" x2="577.0" y2="453.5"/><line x1="644.3" y1="413.5" x2="644.3" y2="453.5"/><line x1="711.6" y1="413.5" x2="711.6" y2="453.5"/><line x1="778.9" y1="413.5" x2="778.9" y2="453.5"/><line x1="846.2" y1="413.5" x2="846.2" y2="453.5"/><line x1="913.4" y1="413.5" x2="913.4" y2="453.5"/><line x1="980.7" y1="413.5" x2="980.7" y2="453.5"/></g><path d="M8.0,453.0 L9.5,453.0 L11.1,453.0 L12.6,453.0 L14.1,453.0 L15.6,453.0 L17.2,452.9 L18.7,453.0 L20.2,453.0 L21.8,453.0 L23.3,452.9 L24.8,452.9 L26.4,452.9 L27.9,453.0 L29.4,453.0 L30.9,452.9 L32.5,453.0 L34.0,453.0 L35.5,453.0 L37.1,453.0 L38.6,452.9 L40.1,452.9 L41.6,453.0 L43.2,452.9 L44.7,452.9 L46.2,452.9 L47.8,452.9 L49.3,453.0 L50.8,453.0 L52.4,453.0 L53.9,453.0 L55.4,453.0 L56.9,453.0 L58.5,453.0 L60.0,453.0 L61.5,452.9 L63.0,453.0 L64.5,453.0 L66.1,453.0 L67.6,453.0 L69.1,452.9 L70.6,452.8 L72.1,452.8 L73.6,452.7 L75.2,452.9 L76.7,452.8 L78.2,452.9 L79.7,452.8 L81.2,452.9 L82.7,452.9 L84.2,452.6 L85.8,452.7 L87.3,452.9 L88.8,452.7 L90.3,452.8 L91.8,452.7 L93.3,452.5 L94.8,452.7 L96.4,452.7 L97.9,452.6 L99.4,452.5 L100.9,452.5 L102.4,452.7 L103.9,452.6 L105.5,452.4 L107.0,452.5 L108.5,452.4 L110.0,452.4 L111.5,452.6 L113.0,452.4 L114.5,452.5 L116.0,452.5 L117.5,452.4 L119.0,452.6 L120.5,452.4 L122.0,452.5 L123.5,452.4 L125.0,452.5 L126.5,452.4 L128.0,452.4 L129.5,452.6 L131.0,452.6 L132.5,452.4 L134.0,452.6 L135.5,452.4 L137.0,452.5 L138.5,452.6 L140.0,452.5 L141.5,452.4 L143.0,452.6 L144.5,452.4 L146.0,452.4 L147.5,452.6 L149.0,452.4 L150.5,452.4 L152.0,452.4 L153.5,452.4 L155.0,452.5 L156.5,452.4 L158.0,452.5 L159.5,452.5 L161.0,452.5 L162.5,452.6 L164.0,452.5 L165.5,452.5 L167.0,452.6 L168.5,452.4 L170.0,452.4 L171.5,452.6 L173.0,452.6 L174.6,452.4 L176.1,452.4 L177.6,452.6 L179.1,452.6 L180.7,452.4 L182.2,452.6 L183.7,452.6 L185.2,452.5 L186.7,452.5 L188.3,452.4 L189.8,452.4 L191.3,452.6 L192.8,452.4 L194.3,452.6 L195.9,452.4 L197.4,452.6 L198.9,452.5 L200.4,452.4 L202.0,452.4 L203.5,452.6 L205.0,452.4 L206.5,452.4 L208.0,452.5 L209.6,452.6 L211.1,452.5 L212.6,452.4 L214.1,452.6 L215.7,452.4 L217.2,452.4 L218.7,452.4 L220.2,452.5 L221.7,452.4 L223.3,452.4 L224.8,452.5 L226.3,452.5 L227.8,452.4 L229.3,452.5 L230.9,452.6 L232.4,452.6 L233.9,452.5 L235.4,452.6 L237.0,452.5 L238.5,452.4 L240.0,452.4 L241.5,452.3 L243.0,452.6 L244.5,452.5 L246.0,452.6 L247.5,452.3 L249.0,452.5 L250.5,452.4 L252.0,452.5 L253.5,452.3 L255.0,452.5 L256.5,452.2 L258.0,452.4 L259.5,452.4 L261.0,452.4 L262.5,452.4 L264.0,452.4 L265.5,452.4 L267.0,452.4 L268.5,452.2 L270.0,452.3 L271.5,452.4 L273.0,452.3 L274.5,452.2 L276.0,452.3 L277.5,452.3 L279.0,452.2 L280.5,452.2 L282.0,452.1 L283.5,452.2 L285.0,452.2 L286.5,452.0 L288.0,452.1 L289.5,452.2 L291.0,452.2 L292.5,452.1 L294.0,452.0 L295.5,452.1 L297.0,452.0 L298.5,452.0 L300.0,452.1 L301.5,451.9 L303.0,452.1 L304.5,451.9 L306.0,452.0 L307.5,452.0 L309.1,451.9 L310.6,452.1 L312.1,452.0 L313.6,452.0 L315.1,452.1 L316.6,451.9 L318.1,451.9 L319.6,451.9 L321.1,452.1 L322.6,451.9 L324.2,451.9 L325.7,452.1 L327.2,452.0 L328.7,452.0 L330.2,452.1 L331.7,451.9 L333.2,452.0 L334.7,451.9 L336.2,452.0 L337.7,452.1 L339.2,452.1 L340.8,452.1 L342.3,452.0 L343.8,452.0 L345.3,451.9 L346.8,451.9 L348.3,452.0 L349.8,452.1 L351.3,452.1 L352.8,452.1 L354.3,452.1 L355.8,451.9 L357.4,451.9 L358.9,452.0 L360.4,451.9 L361.9,451.9 L363.4,452.0 L364.9,452.0 L366.4,452.0 L367.9,451.9 L369.4,452.1 L370.9,452.1 L372.5,452.0 L374.0,451.9 L375.5,451.9 L377.0,452.1 L378.5,451.9 L380.0,452.1 L381.5,452.0 L383.0,451.9 L384.5,452.0 L386.0,451.8 L387.5,451.8 L389.0,451.9 L390.5,451.8 L392.0,452.0 L393.5,451.8 L395.0,451.8 L396.5,451.7 L398.0,451.9 L399.5,451.8 L401.0,451.9 L402.5,451.9 L404.0,451.9 L405.5,451.9 L407.0,451.8 L408.5,451.7 L410.0,451.7 L411.5,451.6 L413.0,451.6 L414.5,451.7 L416.0,451.8 L417.5,451.6 L419.0,451.6 L420.5,451.6 L422.0,451.7 L423.5,451.6 L425.0,451.7 L426.5,451.7 L428.0,451.6 L429.5,451.7 L431.0,451.7 L432.5,451.4 L434.0,451.7 L435.5,451.6 L437.0,451.4 L438.5,451.5 L440.0,451.5 L441.5,451.6 L443.0,451.4 L444.5,451.5 L446.1,451.6 L447.6,451.5 L449.1,451.5 L450.6,451.4 L452.1,451.4 L453.6,451.3 L455.2,451.4 L456.7,451.4 L458.2,451.4 L459.7,451.4 L461.2,451.2 L462.7,451.4 L464.2,451.4 L465.8,451.4 L467.3,451.2 L468.8,451.3 L470.3,451.1 L471.8,451.3 L473.3,451.3 L474.8,451.1 L476.4,451.0 L477.9,451.1 L479.4,451.1 L480.9,451.2 L482.4,451.1 L483.9,450.9 L485.5,451.1 L487.0,450.9 L488.5,451.1 L490.0,450.9 L491.5,450.8 L493.0,450.8 L494.5,450.4 L496.0,450.3 L497.5,450.3 L499.0,450.2 L500.5,450.1 L502.0,449.9 L503.5,449.8 L505.0,449.5 L506.8,449.4 L508.5,448.9 L510.2,448.7 L512.0,448.5 L513.6,448.8 L515.2,449.4 L516.8,449.7 L518.4,450.1 L520.0,450.6 L521.5,450.5 L523.1,450.5 L524.6,450.5 L526.2,450.7 L527.7,450.7 L529.2,450.5 L530.8,450.7 L532.3,450.8 L533.8,450.7 L535.4,450.7 L536.9,450.6 L538.5,450.7 L540.0,450.8 L541.5,450.8 L543.1,450.6 L544.6,450.9 L546.2,450.8 L547.7,450.8 L549.2,451.0 L550.8,450.9 L552.3,450.9 L553.8,451.0 L555.4,450.8 L556.9,451.0 L558.5,451.0 L560.0,451.1 L561.5,451.1 L563.1,450.9 L564.6,450.9 L566.2,450.8 L567.7,450.9 L569.2,451.0 L570.8,451.0 L572.3,450.8 L573.8,450.8 L575.4,450.7 L576.9,450.8 L578.5,450.9 L580.0,450.6 L581.5,450.8 L583.1,450.6 L584.6,450.6 L586.2,450.6 L587.7,450.7 L589.2,450.6 L590.8,450.6 L592.3,450.6 L593.8,450.5 L595.4,450.6 L596.9,450.4 L598.5,450.5 L600.0,450.4 L601.5,450.4 L603.1,450.5 L604.6,450.4 L606.2,450.4 L607.7,450.4 L609.2,450.4 L610.8,450.3 L612.3,450.3 L613.8,450.4 L615.4,450.3 L616.9,450.3 L618.5,450.4 L620.0,450.3 L621.5,450.3 L623.1,450.1 L624.6,450.3 L626.2,450.3 L627.7,450.3 L629.2,450.1 L630.8,450.1 L632.3,450.2 L633.8,450.0 L635.4,450.2 L636.9,450.2 L638.5,449.9 L640.0,449.9 L641.5,450.1 L643.1,449.9 L644.6,449.9 L646.2,450.1 L647.7,449.9 L649.2,450.0 L650.8,449.8 L652.3,449.9 L653.8,450.0 L655.4,449.8 L656.9,449.8 L658.5,450.0 L660.0,450.0 L661.5,450.0 L663.1,449.8 L664.6,449.9 L666.2,449.9 L667.7,449.9 L669.2,449.9 L670.8,449.8 L672.3,449.7 L673.8,449.7 L675.4,449.7 L676.9,449.8 L678.5,449.8 L680.0,449.8 L681.6,449.6 L683.3,449.6 L684.9,449.5 L686.5,449.6 L688.1,449.6 L689.8,449.5 L691.4,448.4 L693.0,448.3 L694.6,450.1 L696.3,449.0 L697.9,449.6 L699.4,448.0 L700.9,447.7 L702.4,447.2 L703.9,446.4 L705.4,446.2 L706.9,444.3 L708.4,445.2 L709.9,444.9 L711.7,442.0 L713.5,441.2 L715.2,440.4 L717.0,438.3 L718.8,436.4 L720.5,435.7 L722.2,435.8 L723.9,434.1 L725.6,435.4 L727.3,434.5 L729.0,433.7 L730.7,433.4 L732.2,433.5 L733.7,433.5 L735.2,434.5 L736.7,434.9 L738.2,438.9 L739.7,441.5 L741.2,440.7 L742.7,442.6 L744.2,442.7 L745.7,443.2 L747.2,443.7 L749.2,441.1 L751.1,440.4 L753.1,438.6 L754.6,438.2 L756.1,438.4 L757.6,438.4 L759.1,437.6 L760.6,438.3 L762.1,435.9 L763.6,435.5 L765.1,434.8 L766.6,432.8 L768.1,432.6 L769.6,432.2 L771.5,433.3 L773.3,433.5 L775.1,436.2 L777.0,436.7 L778.5,436.5 L780.0,437.9 L781.5,438.3 L783.0,438.8 L784.5,439.1 L786.2,440.2 L787.9,439.2 L789.6,439.1 L791.3,439.0 L793.0,439.3 L794.7,437.0 L796.4,438.1 L797.9,439.3 L799.4,439.1 L800.9,440.4 L802.4,440.6 L803.9,441.8 L805.4,443.2 L806.9,443.5 L808.4,444.8 L810.1,446.3 L811.8,445.6 L813.5,445.6 L815.2,446.7 L816.9,445.9 L818.6,447.0 L820.3,446.3 L821.8,446.8 L823.3,445.3 L824.8,446.6 L826.4,447.0 L827.9,445.6 L829.4,447.6 L830.9,446.1 L832.4,446.9 L833.9,446.3 L835.5,447.1 L837.0,447.5 L838.5,446.4 L840.0,448.5 L841.7,447.2 L843.3,447.2 L845.0,447.2 L846.7,446.5 L848.3,446.2 L850.0,446.8 L851.6,446.4 L853.2,445.5 L854.8,446.2 L856.4,445.0 L858.0,444.1 L859.5,444.4 L861.1,443.7 L862.7,443.7 L864.3,444.7 L865.9,443.7 L867.5,444.8 L869.1,444.4 L870.6,442.9 L872.2,445.0 L873.8,444.9 L875.4,443.0 L877.0,444.8 L878.5,443.7 L880.1,443.9 L881.7,444.9 L883.3,443.4 L884.9,444.1 L886.5,445.1 L888.1,444.7 L889.6,444.2 L891.2,445.4 L892.8,445.1 L894.4,444.8 L896.0,443.8 L897.6,444.3 L899.1,443.4 L900.7,442.2 L902.3,441.3 L903.9,441.8 L905.5,440.4 L907.1,440.6 L908.6,440.6 L910.2,439.6 L911.8,438.6 L913.4,438.8 L915.0,437.9 L916.6,438.1 L918.2,437.0 L919.8,437.5 L921.4,436.9 L923.0,435.0 L924.5,432.6 L926.1,430.9 L927.7,431.3 L929.3,431.0 L930.9,430.7 L932.5,430.1 L934.0,429.9 L935.6,430.8 L937.2,430.5 L938.8,430.6 L940.4,431.0 L942.0,431.5 L943.6,430.5 L945.2,430.9 L946.7,432.8 L948.3,432.9 L949.9,433.1 L951.5,431.5 L953.1,431.8 L954.7,432.4 L956.3,432.8 L957.9,433.4 L959.4,432.3 L961.0,433.4 L962.6,432.5 L964.2,432.6 L965.8,432.9 L967.4,431.7 L968.9,430.9 L970.5,429.3 L972.1,426.7 L973.7,423.2 L975.3,420.6 L976.8,420.2 L978.4,419.2 L980.0,417.7 L981.6,417.9 L983.2,419.6 L984.8,419.3 L986.4,420.5 L987.9,420.2 L989.5,421.5 L991.1,421.9 L992.7,423.9 L994.3,423.7 L995.9,425.1 L997.6,424.8 L999.3,422.3 L1001.0,421.8 L1002.6,421.1 L1004.3,420.5 L1006.0,418.5 L1006,453.5 L8,453.5 Z" fill="#eef1f4"/><text x="39.2" y="469.9" text-anchor="middle" font-family="Liberation Sans" font-size="11" fill="#7f8590">2011</text><text x="106.5" y="469.9" text-anchor="middle" font-family="Liberation Sans" font-size="11" fill="#7f8590">2012</text><text x="173.8" y="469.9" text-anchor="middle" font-family="Liberation Sans" font-size="11" fill="#7f8590">2013</text><text x="241.0" y="469.9" text-anchor="middle" font-family="Liberation Sans" font-size="11" fill="#7f8590">2014</text><text x="308.3" y="469.9" text-anchor="middle" font-family="Liberation Sans" font-size="11" fill="#7f8590">2015</text><text x="375.6" y="469.9" text-anchor="middle" font-family="Liberation Sans" font-size="11" fill="#7f8590">2016</text><text x="442.9" y="469.9" text-anchor="middle" font-family="Liberation Sans" font-size="11" fill="#7f8590">2017</text><text x="510.2" y="469.9" text-anchor="middle" font-family="Liberation Sans" font-size="11" fill="#7f8590">2018</text><text x="577.4" y="469.9" text-anchor="middle" font-family="Liberation Sans" font-size="11" fill="#7f8590">2019</text><text x="644.7" y="469.9" text-anchor="middle" font-family="Liberation Sans" font-size="11" fill="#7f8590">2020</text><text x="712.0" y="469.9" text-anchor="middle" font-family="Liberation Sans" font-size="11" fill="#7f8590">2021</text><text x="779.3" y="469.9" text-anchor="middle" font-family="Liberation Sans" font-size="11" fill="#7f8590">2022</text><text x="846.6" y="469.9" text-anchor="middle" font-family="Liberation Sans" font-size="11" fill="#7f8590">2023</text><text x="913.8" y="469.9" text-anchor="middle" font-family="Liberation Sans" font-size="11" fill="#7f8590">2024</text><text x="981.1" y="469.9" text-anchor="middle" font-family="Liberation Sans" font-size="11" fill="#7f8590">2025</text><rect x="998.8" y="424.6" width="13.6" height="16.6" rx="5.5" fill="#fff" filter="url(#sh)"/><line x1="1004.5" y1="429.3" x2="1004.5" y2="436.2" stroke="#7d8594" stroke-width="1"/><line x1="1007.5" y1="429.3" x2="1007.5" y2="436.2" stroke="#7d8594" stroke-width="1"/></svg>
</body></html>
